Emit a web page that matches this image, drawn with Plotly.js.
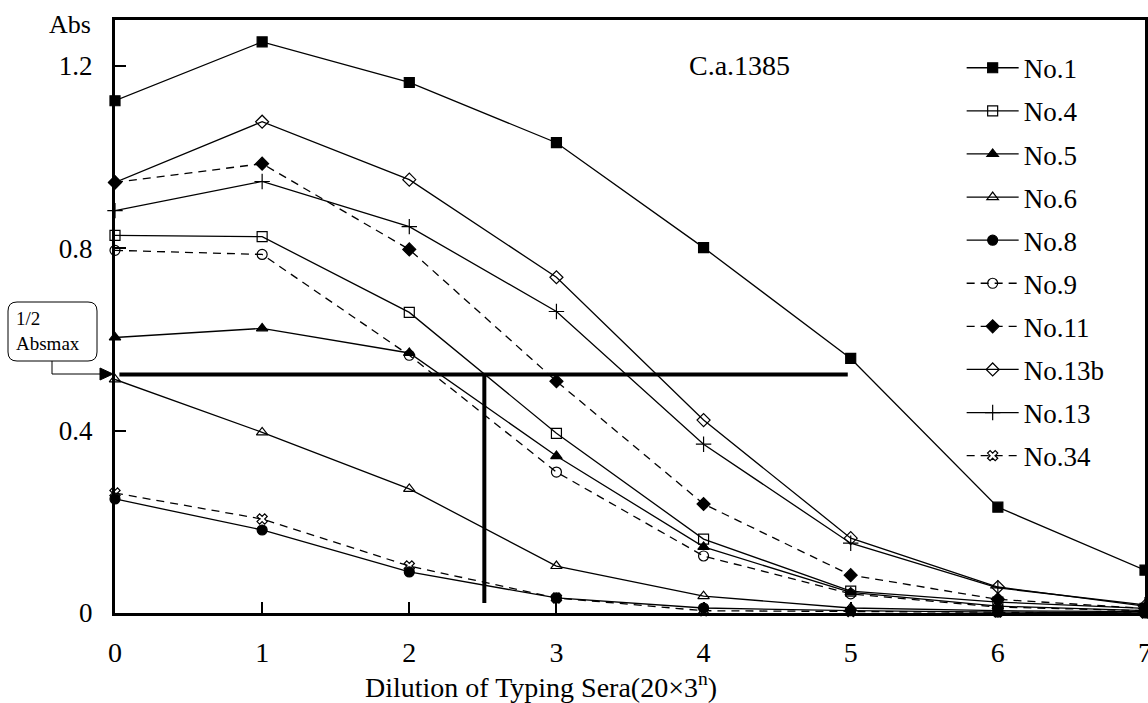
<!DOCTYPE html>
<html><head><meta charset="utf-8">
<script src="https://cdn.plot.ly/plotly-3.0.1.min.js"></script>
<style>html,body{margin:0;padding:0;background:#fff}</style>
</head><body><div id="chart" style="width:1148px;height:703px"></div>
<script>
const dilution = [0, 1, 2, 3, 4, 5, 6, 7];
const xTickLabels = ['0', '1', '2', '3', '4', '5', '6', '7'];
const yTickVals = [0, 0.4, 0.8, 1.2];
const yTickLabels = ['0', '0.4', '0.8', '1.2'];

const no1   = [1.123, 1.252, 1.163, 1.031, 0.801, 0.558, 0.232, 0.094];
const no4   = [0.828, 0.825, 0.659, 0.394, 0.162, 0.048, 0.024, 0.010];
const no5   = [0.604, 0.624, 0.570, 0.344, 0.145, 0.045, 0.015, 0.005];
const no6   = [0.512, 0.396, 0.272, 0.103, 0.037, 0.011, 0.005, 0.003];
const no8   = [0.250, 0.182, 0.090, 0.033, 0.011, 0.005, 0.002, 0.000];
const no9   = [0.795, 0.786, 0.565, 0.309, 0.125, 0.042, 0.013, 0.005];
const no11  = [0.944, 0.985, 0.797, 0.508, 0.239, 0.083, 0.030, 0.010];
const no13b = [0.944, 1.077, 0.950, 0.736, 0.423, 0.164, 0.057, 0.015];
const no13  = [0.882, 0.946, 0.847, 0.661, 0.370, 0.153, 0.055, 0.018];
const no34  = [0.263, 0.206, 0.103, 0.033, 0.005, 0.003, 0.002, 0.000];

const halfAbsmax = 0.523;     // 1/2 Absmax level
const halfLineEndX = 4.98;    // end of horizontal guide
const crossDilution = 2.51;   // dilution at 1/2 Absmax
const crossBottom = 0.022;

const FONT = 'Liberation Serif, Times New Roman, serif';

const seriesDefs = [
  {name: 'No.1',   y: no1,   symbol: 'square',          dash: 'solid', size: 10},
  {name: 'No.4',   y: no4,   symbol: 'square-open',     dash: 'solid', size: 10},
  {name: 'No.5',   y: no5,   symbol: 'triangle-up',     dash: 'solid', size: 10},
  {name: 'No.6',   y: no6,   symbol: 'triangle-up-open',dash: 'solid', size: 10},
  {name: 'No.8',   y: no8,   symbol: 'circle',          dash: 'solid', size: 10},
  {name: 'No.9',   y: no9,   symbol: 'circle-open',     dash: '8px,6px', size: 10},
  {name: 'No.11',  y: no11,  symbol: 'diamond',         dash: '8px,6px', size: 10},
  {name: 'No.13b', y: no13b, symbol: 'diamond-open',    dash: 'solid', size: 10},
  {name: 'No.13',  y: no13,  symbol: 'cross-thin-open', dash: 'solid', size: 11},
  {name: 'No.34',  y: no34,  symbol: 'x-open',          dash: '8px,6px', size: 9}
];

const traces = seriesDefs.map((s, i) => ({
  type: 'scatter', mode: 'lines+markers', name: s.name,
  x: dilution, y: s.y, cliponaxis: false,
  legendgroup: 'g' + i,
  line: {color: '#000', width: 1.3, dash: s.dash},
  marker: {symbol: s.symbol, size: s.size, color: '#000',
           line: {color: '#000', width: 1.2}}
}));

// plot area geometry (px) for paper-space decorations
const L = 115, R = 3, T = 20, B = 90, W = 1148 - L - R, H = 703 - T - B;
const px = v => (v - L) / W;
const py = v => (T + H - v) / H;

// rounded label box
const bx0 = 8, bx1 = 97, by0 = 302, by1 = 361, rr = 9;
const boxPath = [
  `M${px(bx0 + rr)},${py(by0)}`,
  `L${px(bx1 - rr)},${py(by0)}`,
  `Q${px(bx1)},${py(by0)} ${px(bx1)},${py(by0 + rr)}`,
  `L${px(bx1)},${py(by1 - rr)}`,
  `Q${px(bx1)},${py(by1)} ${px(bx1 - rr)},${py(by1)}`,
  `L${px(bx0 + rr)},${py(by1)}`,
  `Q${px(bx0)},${py(by1)} ${px(bx0)},${py(by1 - rr)}`,
  `L${px(bx0)},${py(by0 + rr)}`,
  `Q${px(bx0)},${py(by0)} ${px(bx0 + rr)},${py(by0)} Z`
].join(' ');
const arrowY = 374;
const connPath = `M${px(52)},${py(by1)} L${px(52)},${py(arrowY)} L${px(101)},${py(arrowY)}`;
const headPath = `M${px(100)},${py(arrowY - 6)} L${px(113)},${py(arrowY)} L${px(100)},${py(arrowY + 6)} Z`;

const layout = {
  width: 1148, height: 703,
  margin: {l: L, r: R, t: T, b: B},
  paper_bgcolor: '#fff', plot_bgcolor: '#fff',
  font: {family: FONT, color: '#000', size: 26},
  showlegend: true,
  legend: {x: 0.822, y: 0.96, xanchor: 'left', yanchor: 'top',
           font: {family: FONT, size: 27, color: '#000'},
           itemwidth: 52, tracegroupgap: 5, bgcolor: 'rgba(0,0,0,0)',
           borderwidth: 0},
  xaxis: {range: [0, 7], tickvals: dilution, ticktext: xTickLabels,
          ticks: 'inside', ticklen: 11, tickwidth: 2, tickcolor: '#000',
          showline: true, linewidth: 3, linecolor: '#000', mirror: true,
          showgrid: false, zeroline: false, ticklabelstandoff: 12,
          ticklabeloverflow: 'allow',
          tickfont: {family: FONT, size: 28}},
  yaxis: {range: [0, 1.3], tickvals: yTickVals, ticktext: yTickLabels,
          ticks: 'inside', ticklen: 11, tickwidth: 2, tickcolor: '#000',
          showline: true, linewidth: 3, linecolor: '#000', mirror: true,
          showgrid: false, zeroline: false, ticklabelstandoff: 14,
          tickfont: {family: FONT, size: 27}},
  shapes: [
    {type: 'line', xref: 'x', yref: 'y', x0: 0.03, x1: halfLineEndX,
     y0: halfAbsmax, y1: halfAbsmax, line: {color: '#000', width: 4}},
    {type: 'line', xref: 'x', yref: 'y', x0: crossDilution, x1: crossDilution,
     y0: halfAbsmax, y1: crossBottom, line: {color: '#000', width: 4}},
    {type: 'path', xref: 'paper', yref: 'paper', path: boxPath,
     line: {color: '#000', width: 1}, fillcolor: '#fff'},
    {type: 'path', xref: 'paper', yref: 'paper', path: connPath,
     line: {color: '#000', width: 1}},
    {type: 'path', xref: 'paper', yref: 'paper', path: headPath,
     line: {color: '#000', width: 1}, fillcolor: '#000'}
  ],
  annotations: [
    {xref: 'paper', yref: 'paper', x: px(14), y: py(331), xanchor: 'left', yanchor: 'middle',
     align: 'left', showarrow: false, text: '1/2<br>Absmax',
     font: {family: FONT, size: 19, color: '#000'}},
    {xref: 'paper', yref: 'paper', x: px(739), y: py(66), xanchor: 'center', yanchor: 'middle',
     showarrow: false, text: 'C.a.1385', font: {family: FONT, size: 28, color: '#000'}},
    {xref: 'paper', yref: 'paper', x: px(70), y: py(25), xanchor: 'center', yanchor: 'middle',
     showarrow: false, text: 'Abs', font: {family: FONT, size: 26, color: '#000'}},
    {xref: 'paper', yref: 'paper', x: px(541), y: py(685), xanchor: 'center', yanchor: 'middle',
     showarrow: false, text: 'Dilution of Typing Sera(20×3<sup>n</sup>)',
     font: {family: FONT, size: 28, color: '#000'}}
  ]
};

Plotly.newPlot('chart', traces, layout, {displayModeBar: false, staticPlot: true});
</script>
</body></html>
